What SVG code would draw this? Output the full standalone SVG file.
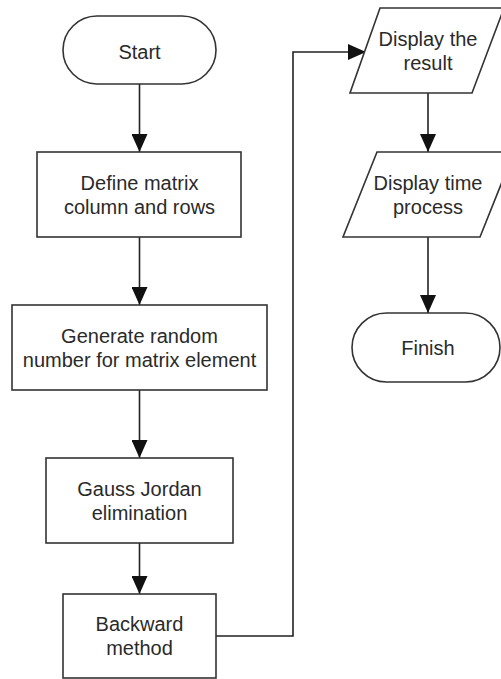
<svg xmlns="http://www.w3.org/2000/svg" width="501" height="679" viewBox="0 0 501 679">
<defs>
<style>
.s{fill:#fff;stroke:#333;stroke-width:1.6}
.t{font-family:"Liberation Sans",Arial,sans-serif;font-size:20px;fill:#2a2a2a;text-anchor:middle}
.c{fill:none;stroke:#222;stroke-width:1.6}
</style>
<marker id="ah" viewBox="0 0 18 16" refX="18" refY="8" markerWidth="18" markerHeight="16" markerUnits="userSpaceOnUse" orient="auto">
<path d="M0,0 L18,8 L0,16 Z" fill="#111"/>
</marker>
</defs>
<rect width="501" height="679" fill="#fff"/>
<g id="connectors">
<line class="c" x1="139.5" y1="84" x2="139.5" y2="152" marker-end="url(#ah)"/>
<line class="c" x1="139.5" y1="237" x2="139.5" y2="305" marker-end="url(#ah)"/>
<line class="c" x1="139.5" y1="390" x2="139.5" y2="458" marker-end="url(#ah)"/>
<line class="c" x1="139.5" y1="543" x2="139.5" y2="594" marker-end="url(#ah)"/>
<polyline class="c" points="216,636 293,636 293,52 366,52" marker-end="url(#ah)"/>
<line class="c" x1="428" y1="93" x2="428" y2="152" marker-end="url(#ah)"/>
<line class="c" x1="428" y1="237" x2="428" y2="313" marker-end="url(#ah)"/>
</g>
<g id="start">
<rect class="s" x="63" y="16" width="153" height="68" rx="34" ry="34"/>
<text class="t" x="139.5" y="59">Start</text>
</g>
<g id="define">
<rect class="s" x="37" y="152" width="204" height="85"/>
<text class="t" x="139.5" y="189.5">Define matrix</text>
<text class="t" x="139.5" y="213.5">column and rows</text>
</g>
<g id="generate">
<rect class="s" x="12" y="305" width="255" height="85"/>
<text class="t" x="139.5" y="342.5">Generate random</text>
<text class="t" x="139.5" y="366.5">number for matrix element</text>
</g>
<g id="gauss">
<rect class="s" x="46" y="458" width="187" height="85"/>
<text class="t" x="139.5" y="495.5">Gauss Jordan</text>
<text class="t" x="139.5" y="519.5">elimination</text>
</g>
<g id="backward">
<rect class="s" x="63" y="594" width="153" height="84"/>
<text class="t" x="139.5" y="631">Backward</text>
<text class="t" x="139.5" y="655">method</text>
</g>
<g id="display-result">
<polygon class="s" points="380,8 504,8 472,93 350,93"/>
<text class="t" x="428" y="46">Display the</text>
<text class="t" x="428" y="70">result</text>
</g>
<g id="display-time">
<polygon class="s" points="377,152 514,152 480,237 343,237"/>
<text class="t" x="428" y="190">Display time</text>
<text class="t" x="428" y="214">process</text>
</g>
<g id="finish">
<rect class="s" x="352" y="313" width="148" height="69" rx="34.5" ry="34.5"/>
<text class="t" x="428" y="354.5">Finish</text>
</g>
</svg>
